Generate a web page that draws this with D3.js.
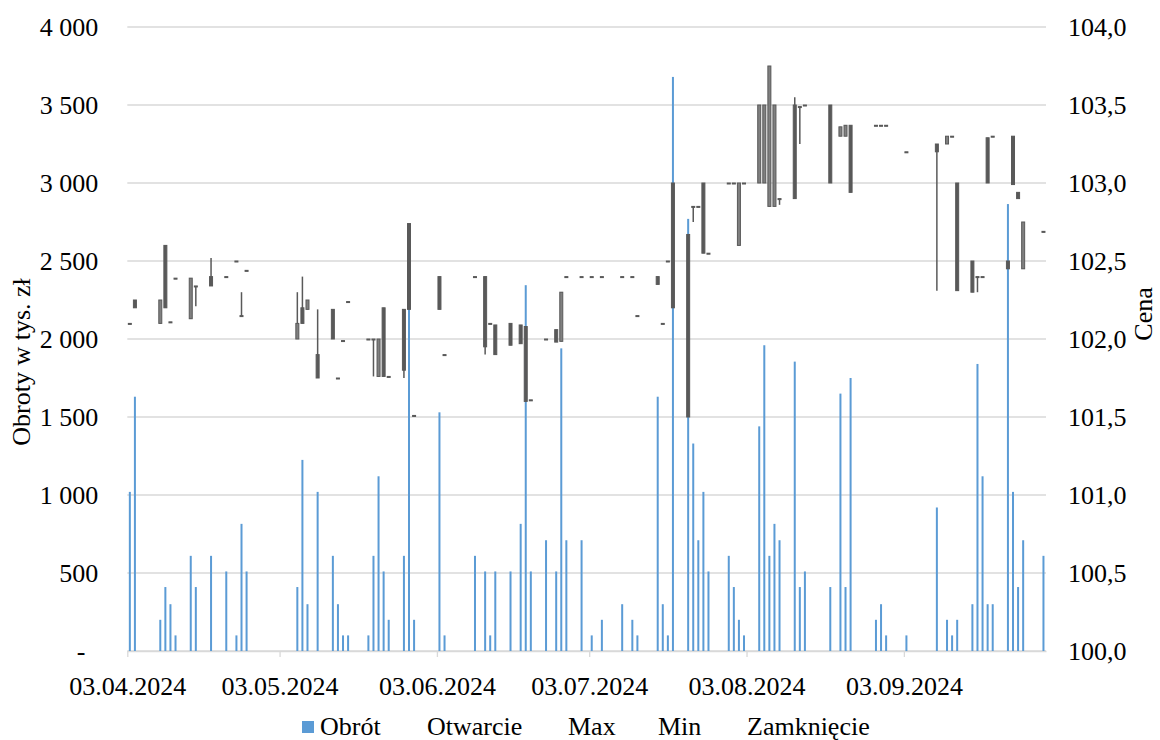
<!DOCTYPE html>
<html>
<head>
<meta charset="utf-8">
<script src="https://cdn.jsdelivr.net/npm/d3@7"></script>
<style>
  body { margin: 0; background: #fff; }
  text { font-family: "Liberation Serif", "Times New Roman", serif; font-size: 26px; fill: #000; }
</style>
</head>
<body>
<svg id="chart" width="1160" height="740"></svg>
<script>
// Trading sessions (dd.mm.yyyy)
const sessionDates = [
  "03.04.2024","04.04.2024","09.04.2024","10.04.2024","11.04.2024","12.04.2024","15.04.2024","16.04.2024",
  "19.04.2024","22.04.2024","24.04.2024","25.04.2024","26.04.2024",
  "06.05.2024","07.05.2024","08.05.2024","10.05.2024","13.05.2024","14.05.2024","15.05.2024","16.05.2024",
  "20.05.2024","21.05.2024","22.05.2024","23.05.2024","24.05.2024","27.05.2024","28.05.2024","29.05.2024",
  "03.06.2024","04.06.2024","10.06.2024","12.06.2024","13.06.2024","14.06.2024","17.06.2024","19.06.2024",
  "20.06.2024","21.06.2024","24.06.2024","26.06.2024","27.06.2024","28.06.2024",
  "01.07.2024","03.07.2024","05.07.2024","09.07.2024","11.07.2024","12.07.2024","16.07.2024","17.07.2024",
  "18.07.2024","19.07.2024","22.07.2024","23.07.2024","24.07.2024","25.07.2024","26.07.2024","30.07.2024",
  "31.07.2024","01.08.2024","02.08.2024","05.08.2024","06.08.2024","07.08.2024","08.08.2024","09.08.2024",
  "12.08.2024","13.08.2024","14.08.2024","19.08.2024","21.08.2024","22.08.2024","23.08.2024","28.08.2024",
  "29.08.2024","30.08.2024","03.09.2024","09.09.2024","11.09.2024","12.09.2024","13.09.2024","16.09.2024",
  "17.09.2024","18.09.2024","19.09.2024","20.09.2024","23.09.2024","24.09.2024","25.09.2024","26.09.2024",
  "30.09.2024"
];

// Obrót (tys. zł)
const turnover = [
  1020,1630,200,410,300,100,610,410,
  610,510,100,815,510,
  410,1225,300,1020,610,300,100,100,
  100,610,1120,510,200,610,2240,200,
  1530,100,610,510,100,510,510,815,
  2345,510,710,510,1940,710,
  710,100,200,300,200,100,1630,300,
  100,3680,2770,1330,710,1020,510,610,
  410,200,100,1440,1960,610,815,710,
  1855,410,510,410,1650,410,1750,200,
  300,100,100,920,200,100,200,300,
  1840,1120,300,300,2865,1020,410,710,
  610
];

// Otwarcie
const openPrice = [
  102.10,102.25,102.10,102.60,102.11,102.39,102.13,102.34,
  102.40,102.40,102.50,102.15,102.44,
  102.00,102.20,102.19,101.90,102.19,101.75,101.99,102.24,
  102.00,102.00,101.76,102.20,101.76,102.19,102.74,101.51,
  102.40,101.90,102.40,102.40,102.10,102.09,102.10,102.09,
  102.08,101.61,102.00,102.06,101.985,102.40,
  102.40,102.40,102.40,102.40,102.40,102.15,102.40,102.10,
  102.50,103.00,102.67,102.85,102.85,103.00,102.55,103.00,
  103.00,102.60,103.00,103.00,103.00,102.85,102.85,102.90,
  103.50,103.49,103.50,103.50,103.30,103.30,103.37,103.37,
  103.37,103.37,103.20,103.25,103.25,103.30,103.00,102.50,
  102.40,102.40,103.29,103.30,102.50,103.30,102.94,102.45,
  102.69
];

// Max
const highPrice = [
  102.10,102.25,102.25,102.60,102.11,102.39,102.39,102.34,
  102.52,102.40,102.50,102.30,102.44,
  102.30,102.40,102.25,102.19,102.19,101.75,101.99,102.24,
  102.00,102.00,102.00,102.20,101.76,102.19,102.74,101.51,
  102.40,101.90,102.40,102.40,102.10,102.09,102.10,102.09,
  102.08,101.61,102.00,102.06,102.30,102.40,
  102.40,102.40,102.40,102.40,102.40,102.15,102.40,102.10,
  102.50,103.00,102.67,102.85,102.85,103.00,102.55,103.00,
  103.00,103.00,103.00,103.50,103.50,103.75,103.50,102.90,
  103.55,103.49,103.50,103.50,103.36,103.37,103.37,103.37,
  103.37,103.37,103.20,103.25,103.30,103.30,103.00,102.50,
  102.40,102.40,103.29,103.30,102.50,103.30,102.94,102.75,
  102.69
];

// Min
const lowPrice = [
  102.10,102.20,102.10,102.20,102.11,102.39,102.13,102.21,
  102.34,102.40,102.50,102.15,102.44,
  102.00,102.10,102.19,101.75,102.00,101.75,101.99,102.24,
  102.00,101.76,101.76,101.76,101.76,101.75,102.19,101.51,
  102.19,101.90,102.40,101.90,102.10,101.90,101.96,101.97,
  101.60,101.61,102.00,101.98,101.985,102.40,
  102.40,102.40,102.40,102.40,102.40,102.15,102.35,102.10,
  102.50,102.20,101.50,102.75,102.85,102.55,102.55,103.00,
  103.00,102.60,103.00,103.00,103.00,102.85,102.85,102.86,
  102.90,103.25,103.50,103.00,103.30,103.30,102.94,103.37,
  103.37,103.37,103.20,102.31,103.25,103.30,102.31,102.30,
  102.30,102.40,103.00,103.30,102.45,102.99,102.90,102.45,
  102.69
];

// Zamknięcie
const closePrice = [
  102.10,102.20,102.25,102.20,102.11,102.39,102.39,102.34,
  102.34,102.40,102.50,102.15,102.44,
  102.10,102.10,102.25,101.75,102.00,101.75,101.99,102.24,
  102.00,102.00,102.00,101.76,101.76,101.80,102.19,101.51,
  102.19,101.90,102.40,101.95,102.10,101.90,101.96,101.97,
  101.60,101.61,102.00,101.98,102.30,102.40,
  102.40,102.40,102.40,102.40,102.40,102.15,102.35,102.10,
  102.50,102.20,101.50,102.85,102.85,102.55,102.55,103.00,
  103.00,103.00,103.00,103.50,103.50,103.75,103.50,102.90,
  102.90,103.49,103.50,103.00,103.36,103.37,102.94,103.37,
  103.37,103.37,103.20,103.20,103.30,103.30,102.31,102.30,
  102.40,102.40,103.00,103.30,102.45,102.99,102.90,102.75,
  102.69
];

const volumeTicks = [0, 500, 1000, 1500, 2000, 2500, 3000, 3500, 4000];
const priceTicks = [100, 100.5, 101, 101.5, 102, 102.5, 103, 103.5, 104];
const monthTicks = ["03.04.2024","03.05.2024","03.06.2024","03.07.2024","03.08.2024","03.09.2024"];
const legendLabels = ["Obrót", "Otwarcie", "Max", "Min", "Zamknięcie"];
const volumeTitle = "Obroty w tys. zł";
const priceTitle = "Cena";

const parseDate = d3.utcParse("%d.%m.%Y");
const fmtDate = d3.utcFormat("%d.%m.%Y");

const rows = sessionDates.map((d, i) => ({
  date: parseDate(d),
  vol: turnover[i],
  o: openPrice[i], h: highPrice[i], l: lowPrice[i], c: closePrice[i]
}));

const svg = d3.select("#chart");
const plot = { left: 127.3, right: 1046, top: 27, bottom: 651 };

// Each session occupies one day slot; marks sit in the middle of their slot
const x = d3.scaleUtc()
  .domain([parseDate("03.04.2024"), parseDate("01.10.2024")])
  .range([plot.left, plot.right]);
const mid = d => x(d3.utcHour.offset(d, 12));

const yVol = d3.scaleLinear().domain([0, 4000]).range([plot.bottom, plot.top]);
const yPrice = d3.scaleLinear().domain([100, 104]).range([plot.bottom, plot.top]);

const gridColor = "#d9d9d9";
const candleColor = "#595959";
const risingFill = "#808080";

// Horizontal gridlines
svg.append("g")
  .selectAll("line")
  .data(volumeTicks)
  .join("line")
  .attr("x1", plot.left).attr("x2", plot.right)
  .attr("y1", d => yVol(d)).attr("y2", d => yVol(d))
  .attr("stroke", gridColor).attr("stroke-width", 1.3);

// Left axis (turnover)
const volFormat = d => d === 0 ? "-" : d3.format(",")(d).replace(/,/g, "\u00a0");
const leftAxis = svg.append("g")
  .attr("transform", `translate(${plot.left},0)`)
  .call(d3.axisLeft(yVol).tickValues(volumeTicks).tickFormat(volFormat).tickSize(0).tickPadding(29));
leftAxis.select(".domain").remove();
leftAxis.selectAll("text")
  .style("font-family", '"Liberation Serif", serif').style("font-size", "26px").attr("fill", "#000")
  .attr("dx", d => d === 0 ? -13 : 0);

// Right axis (price)
const priceFormat = d => d3.format(".1f")(d).replace(".", ",");
const rightAxis = svg.append("g")
  .attr("transform", `translate(${plot.right},0)`)
  .call(d3.axisRight(yPrice).tickValues(priceTicks).tickFormat(priceFormat).tickSize(0).tickPadding(22));
rightAxis.select(".domain").remove();
rightAxis.selectAll("text")
  .style("font-family", '"Liberation Serif", serif').style("font-size", "26px").attr("fill", "#000");

// Bottom date axis
const bottomAxis = svg.append("g")
  .attr("transform", `translate(0,${plot.bottom})`)
  .call(d3.axisBottom(x).tickValues(monthTicks.map(parseDate)).tickFormat(fmtDate).tickSize(6).tickSizeOuter(0).tickPadding(20));
bottomAxis.select(".domain").attr("stroke", gridColor).attr("stroke-width", 1.3);
bottomAxis.selectAll(".tick line").attr("stroke", gridColor).attr("stroke-width", 1.3);
bottomAxis.selectAll("text")
  .style("font-family", '"Liberation Serif", serif').style("font-size", "26px").attr("fill", "#000");

// Turnover bars
svg.append("g")
  .selectAll("rect")
  .data(rows)
  .join("rect")
  .attr("x", d => mid(d.date) - 1)
  .attr("width", 2)
  .attr("y", d => yVol(d.vol))
  .attr("height", d => yVol(0) - yVol(d.vol))
  .attr("fill", "#5b9bd5");

// High-low lines
svg.append("g")
  .selectAll("line")
  .data(rows.filter(d => d.h > d.l))
  .join("line")
  .attr("x1", d => mid(d.date)).attr("x2", d => mid(d.date))
  .attr("y1", d => yPrice(d.h)).attr("y2", d => yPrice(d.l))
  .attr("stroke", candleColor).attr("stroke-width", 1.5);

// Open-close bodies
svg.append("g")
  .selectAll("rect")
  .data(rows)
  .join("rect")
  .attr("x", d => mid(d.date) - 1.5)
  .attr("width", 3)
  .attr("y", d => yPrice(Math.max(d.o, d.c)))
  .attr("height", d => Math.max(1, yPrice(Math.min(d.o, d.c)) - yPrice(Math.max(d.o, d.c))))
  .attr("fill", d => d.c > d.o ? risingFill : candleColor)
  .attr("stroke", candleColor)
  .attr("stroke-width", 1);

// Axis titles
svg.append("text")
  .attr("transform", "translate(30,362) rotate(-90)")
  .attr("text-anchor", "middle")
  .text(volumeTitle);
svg.append("text")
  .attr("transform", "translate(1152,314) rotate(-90)")
  .attr("text-anchor", "middle")
  .text(priceTitle);

// Legend
const legendX = [320, 427, 568, 658, 747];
const legend = svg.append("g");
legend.append("rect")
  .attr("x", 302).attr("y", 721).attr("width", 12).attr("height", 12)
  .attr("fill", "#5b9bd5");
legend.selectAll("text")
  .data(legendLabels)
  .join("text")
  .attr("x", (d, i) => legendX[i])
  .attr("y", 735)
  .text(d => d);
</script>
</body>
</html>
